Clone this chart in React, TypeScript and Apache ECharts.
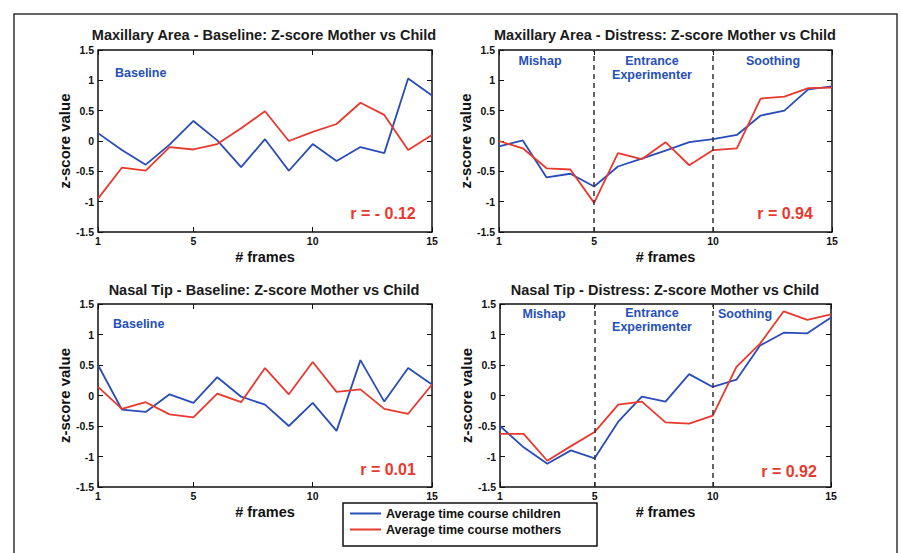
import React, { useEffect, useRef } from "react";
import * as echarts from "echarts";

const frames = [1, 2, 3, 4, 5, 6, 7, 8, 9, 10, 11, 12, 13, 14, 15];
const frameTicks = [1, 5, 10, 15];

const maxBaseChild = [0.13, -0.15, -0.39, -0.06, 0.33, 0.01, -0.43, 0.03, -0.49, -0.05, -0.33, -0.1, -0.2, 1.03, 0.75];
const maxBaseMother = [-0.95, -0.44, -0.49, -0.1, -0.14, -0.05, 0.21, 0.49, 0.0, 0.15, 0.28, 0.63, 0.43, -0.15, 0.1];
const maxDistChild = [-0.09, 0.01, -0.6, -0.54, -0.75, -0.42, -0.29, -0.16, -0.02, 0.03, 0.1, 0.42, 0.5, 0.85, 0.9];
const maxDistMother = [0.0, -0.12, -0.45, -0.47, -1.02, -0.2, -0.3, -0.02, -0.4, -0.15, -0.12, 0.7, 0.73, 0.87, 0.88];
const nasBaseChild = [0.5, -0.23, -0.27, 0.02, -0.12, 0.3, -0.02, -0.15, -0.5, -0.12, -0.58, 0.58, -0.1, 0.45, 0.18];
const nasBaseMother = [0.14, -0.22, -0.11, -0.31, -0.36, 0.03, -0.11, 0.45, 0.02, 0.55, 0.06, 0.1, -0.22, -0.3, 0.18];
const nasDistChild = [-0.5, -0.85, -1.12, -0.9, -1.03, -0.43, -0.02, -0.1, 0.35, 0.14, 0.26, 0.82, 1.03, 1.02, 1.28];
const nasDistMother = [-0.63, -0.63, -1.07, -0.83, -0.6, -0.15, -0.1, -0.44, -0.46, -0.33, 0.47, 0.85, 1.38, 1.24, 1.33];

const phaseBounds = [5, 10];

const titles = [
  "Maxillary Area - Baseline: Z-score Mother vs Child",
  "Maxillary Area - Distress: Z-score Mother vs Child",
  "Nasal Tip - Baseline: Z-score Mother vs Child",
  "Nasal Tip - Distress: Z-score Mother vs Child",
];
const correlations = ["r = - 0.12", "r = 0.94", "r = 0.01", "r = 0.92"];
const childName = "Average time course children";
const motherName = "Average time course mothers";

const BLUE = "#2a4cb6";
const RED = "#e8392f";
const TEXT_BLUE = "#2650b8";
const FONT = "'Liberation Sans', Arial, Helvetica, sans-serif";

const grids = [
  { left: 98, top: 50, width: 334, height: 182 },
  { left: 499, top: 50, width: 333, height: 182 },
  { left: 98, top: 304, width: 334, height: 183 },
  { left: 500, top: 304, width: 331, height: 183 },
];

const panelData = [
  [maxBaseChild, maxBaseMother, false],
  [maxDistChild, maxDistMother, true],
  [nasBaseChild, nasBaseMother, false],
  [nasDistChild, nasDistMother, true],
] as const;

function pairs(vals: readonly number[]) {
  return frames.map((f, i) => [f, vals[i]]);
}

export default function App() {
  const ref = useRef<HTMLDivElement>(null);
  useEffect(() => {
    if (!ref.current) return;
    const chart = echarts.init(ref.current, undefined, { renderer: "svg" });

    const tickStyle = { lineStyle: { color: "#111", width: 1 } };
    const noLine = { show: false, onZero: false };
    const xAxes: any[] = [];
    const yAxes: any[] = [];
    const series: any[] = [];
    grids.forEach((g, i) => {
      xAxes.push({
        type: "value", gridIndex: i, min: 1, max: 15, position: "bottom",
        name: "# frames", nameLocation: "middle", nameGap: 17,
        nameTextStyle: { fontFamily: FONT, fontWeight: "bold", fontSize: 14.5, color: "#111" },
        axisLine: noLine,
        axisTick: { show: true, inside: true, length: 5, customValues: frameTicks, ...tickStyle },
        axisLabel: { customValues: frameTicks, fontFamily: FONT, fontWeight: "bold", fontSize: 10.5, color: "#111", margin: 3 },
        splitLine: { show: false },
      });
      xAxes.push({
        type: "value", gridIndex: i, min: 1, max: 15, position: "top",
        axisLine: noLine,
        axisTick: { show: true, inside: true, length: 5, customValues: frameTicks, ...tickStyle },
        axisLabel: { show: false },
        splitLine: { show: false },
      });
      yAxes.push({
        type: "value", gridIndex: i, min: -1.5, max: 1.5, interval: 0.5, position: "left",
        name: "z-score value", nameLocation: "middle", nameGap: 26,
        nameTextStyle: { fontFamily: FONT, fontWeight: "bold", fontSize: 15, color: "#111" },
        axisLine: noLine,
        axisTick: { show: true, inside: true, length: 5, ...tickStyle },
        axisLabel: { fontFamily: FONT, fontWeight: "bold", fontSize: 10.5, color: "#111", margin: 4 },
        splitLine: { show: false },
      });
      yAxes.push({
        type: "value", gridIndex: i, min: -1.5, max: 1.5, interval: 0.5, position: "right",
        axisLine: noLine,
        axisTick: { show: true, inside: true, length: 5, ...tickStyle },
        axisLabel: { show: false },
        splitLine: { show: false },
      });
      const [child, mother, phases] = panelData[i];
      series.push({
        type: "line", name: childName, xAxisIndex: i * 2, yAxisIndex: i * 2,
        data: pairs(child), showSymbol: false, symbol: "none",
        lineStyle: { color: BLUE, width: 1.8 }, itemStyle: { color: BLUE },
        markLine: phases
          ? {
              silent: true, symbol: "none", label: { show: false },
              lineStyle: { color: "#333", type: [5, 4], width: 1.5 },
              data: phaseBounds.map((b) => ({ xAxis: b })),
            }
          : undefined,
      });
      series.push({
        type: "line", name: motherName, xAxisIndex: i * 2, yAxisIndex: i * 2,
        data: pairs(mother), showSymbol: false, symbol: "none",
        lineStyle: { color: RED, width: 1.8 }, itemStyle: { color: RED },
      });
    });

    const titleCenters = [[264, 27], [665, 27], [264, 282], [665, 282]];
    const title = titles.map((t, i) => ({
      text: t, left: titleCenters[i][0], top: titleCenters[i][1], textAlign: "center", padding: 0,
      textStyle: { fontFamily: FONT, fontWeight: "bold", fontSize: 14.5, color: "#1a1a1a" },
    }));

    const blueText = (text: string, x: number, y: number, align = "center") => ({
      type: "text", x, y, silent: true, z: 10,
      style: { text, fill: TEXT_BLUE, font: `bold 12.5px ${FONT}`, align, verticalAlign: "middle", lineHeight: 14 },
    });
    const redText = (text: string, x: number, y: number) => ({
      type: "text", x, y, silent: true, z: 10,
      style: { text, fill: RED, font: `bold 16px ${FONT}`, align: "center", verticalAlign: "middle" },
    });

    const graphic: any[] = [
      { type: "rect", shape: { x: 14, y: 14, width: 883, height: 560 }, style: { fill: "none", stroke: "#333", lineWidth: 1.5 }, silent: true, z: 0 },
      blueText("Baseline", 115, 73, "left"),
      blueText("Mishap", 540, 61),
      blueText("Entrance\nExperimenter", 652, 68),
      blueText("Soothing", 773, 61),
      blueText("Baseline", 113, 324, "left"),
      blueText("Mishap", 544, 314),
      blueText("Entrance\nExperimenter", 652, 320),
      blueText("Soothing", 745, 314),
      redText(correlations[0], 383, 213),
      redText(correlations[1], 785, 213),
      redText(correlations[2], 388, 469),
      redText(correlations[3], 789, 471),
      { type: "rect", shape: { x: 343, y: 503, width: 254, height: 43 }, style: { fill: "#fff", stroke: "#111", lineWidth: 1.5 }, silent: true, z: 1 },
    ];

    chart.setOption({
      animation: false,
      backgroundColor: "#fff",
      title,
      grid: grids.map((g) => ({ ...g, show: true, borderColor: "#111", borderWidth: 1.5, backgroundColor: "#fff" })),
      xAxis: xAxes,
      yAxis: yAxes,
      legend: {
        data: [childName, motherName], orient: "vertical", left: 350, top: 507, z: 5,
        icon: "rect", itemWidth: 31, itemHeight: 2, itemGap: 3, padding: 0,
        textStyle: { fontFamily: FONT, fontWeight: "bold", fontSize: 12.5, color: "#111" },
        selectedMode: false,
      },
      series,
      graphic,
    });
    return () => chart.dispose();
  }, []);
  return <div ref={ref} style={{ position: "fixed", left: 0, top: 0, width: 901, height: 553 }} />;
}
